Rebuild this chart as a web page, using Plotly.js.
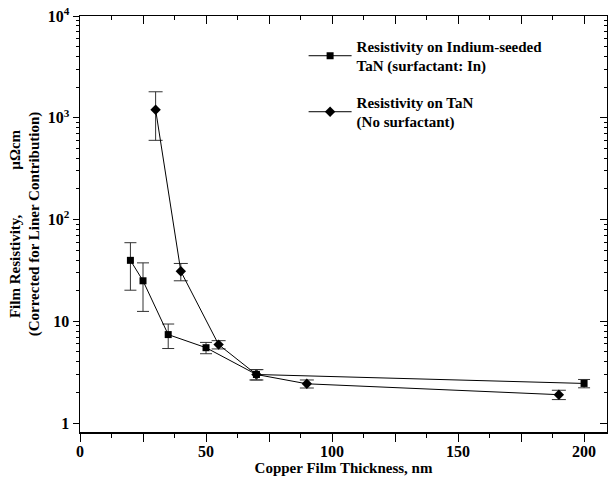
<!DOCTYPE html>
<html>
<head>
<meta charset="utf-8">
<script src="https://cdn.plot.ly/plotly-3.0.1.min.js"></script>
<style>
  html, body { margin: 0; padding: 0; background: #fff; }
  #chart { width: 608px; height: 480px; }
</style>
</head>
<body>
<div id="chart"></div>
<script>
// Copper film thickness (nm) and resistivity (µΩ·cm) with error bars
const thicknessIndium = [20, 25, 35, 50, 70, 200];
const resistivityIndium = [39.7, 25, 7.4, 5.5, 3.0, 2.45];
const errorIndium = [19.5, 12.5, 2.0, 0.7, 0.35, 0.23];

const thicknessTaN = [30, 40, 55, 70, 90, 190];
const resistivityTaN = [1200, 31, 5.9, 3.0, 2.43, 1.9];
const errorTaN = [600, 6, 0.55, 0.35, 0.22, 0.2];

const xTickVals = [0, 25, 50, 75, 100, 125, 150, 175, 200];
const xTickText = ['0', '', '50', '', '100', '', '150', '', '200'];
const yTickVals = [1, 10, 100, 1000, 10000];
const yTickText = ['1', '10', '10<sup>2</sup>', '10<sup>3</sup>', '10<sup>4</sup>'];

const nameIndium = 'Resistivity on Indium-seeded<br>TaN (surfactant: In)';
const nameTaN = 'Resistivity on TaN<br>(No surfactant)';

// minor log ticks 2..9 inside each decade
const yMinorVals = [];
for (let d = 0; d < yTickVals.length - 1; d++) {
  for (let k = 2; k <= 9; k++) yMinorVals.push(yTickVals[d] * k);
}

const serif = '"Liberation Serif", "Times New Roman", serif';
const xRange = [0, 209.1];
const yRange = [-0.088, 4.0];
const nb = '\u00A0';

const traces = [
  {
    x: thicknessTaN, y: resistivityTaN, name: nameTaN,
    type: 'scatter', mode: 'lines+markers', legendrank: 2, legendgroup: 'tan',
    line: { color: '#000', width: 1 },
    marker: { symbol: 'diamond', size: 8, color: '#000' },
    error_y: { type: 'data', array: errorTaN, visible: true, color: '#333', thickness: 1, width: 7 }
  },
  {
    x: thicknessIndium, y: resistivityIndium, name: nameIndium,
    type: 'scatter', mode: 'lines+markers', legendrank: 1, legendgroup: 'indium',
    line: { color: '#000', width: 1 },
    marker: { symbol: 'square', size: 7, color: '#000' },
    error_y: { type: 'data', array: errorIndium, visible: true, color: '#333', thickness: 1, width: 6 }
  },
  {
    // carrier for the mirrored top/right axes
    x: [], y: [], xaxis: 'x2', yaxis: 'y2', showlegend: false, hoverinfo: 'skip'
  }
];

const layout = {
  width: 608, height: 480,
  margin: { l: 80, r: 1, t: 16, b: 48, pad: 0 },
  paper_bgcolor: '#fff', plot_bgcolor: '#fff',
  font: { family: serif, color: '#000', size: 15, weight: 'bold' },
  showlegend: true,
  legend: {
    x: 0.4243, y: 0.967, xanchor: 'left', yanchor: 'top',
    bgcolor: 'rgba(0,0,0,0)', borderwidth: 0, itemwidth: 43,
    font: { family: serif, size: 15, color: '#000', weight: 'bold' },
    tracegroupgap: 14
  },
  xaxis: {
    range: xRange, showgrid: false, zeroline: false,
    showline: true, linecolor: '#000', linewidth: 1.5,
    tickmode: 'array', tickvals: xTickVals, ticktext: xTickText,
    ticks: 'outside', ticklen: 8, tickwidth: 1, tickcolor: '#000', ticklabelstandoff: -4,
    minor: { tickmode: 'linear', tick0: 0, dtick: 12.5, ticks: 'outside', ticklen: 4, tickcolor: '#000', tickwidth: 1 },
    tickfont: { family: serif, size: 16, color: '#000', weight: 'bold' },
    title: { text: 'Copper Film Thickness, nm', font: { family: serif, size: 15, color: '#000', weight: 'bold' }, standoff: 0 }
  },
  yaxis: {
    type: 'log', range: yRange, showgrid: false, zeroline: false,
    showline: true, linecolor: '#000', linewidth: 1.5,
    tickmode: 'array', tickvals: yTickVals, ticktext: yTickText,
    ticks: 'outside', ticklen: 6, tickwidth: 1, tickcolor: '#000',
    minor: { tickmode: 'array', tickvals: yMinorVals, ticks: 'outside', ticklen: 3, tickcolor: '#000', tickwidth: 1 },
    tickfont: { family: serif, size: 16, color: '#000', weight: 'bold' },
    title: {
      text: 'Film Resistivity,' + nb.repeat(12) + 'µΩcm<br>(Corrected for Liner Contribution)',
      font: { family: serif, size: 15, color: '#000', weight: 'bold' }, standoff: 4
    }
  },
  xaxis2: {
    overlaying: 'x', side: 'top', anchor: 'y2', range: xRange,
    showgrid: false, zeroline: false, showline: true, linecolor: '#000', linewidth: 1,
    tickmode: 'array', tickvals: xTickVals, showticklabels: false,
    ticks: 'inside', ticklen: 8, tickwidth: 1, tickcolor: '#000',
    minor: { tickmode: 'linear', tick0: 0, dtick: 12.5, ticks: 'inside', ticklen: 4, tickcolor: '#000', tickwidth: 1 }
  },
  yaxis2: {
    overlaying: 'y', side: 'right', anchor: 'x2', type: 'log', range: yRange,
    showgrid: false, zeroline: false, showline: true, linecolor: '#000', linewidth: 1,
    tickmode: 'array', tickvals: yTickVals, showticklabels: false,
    ticks: 'inside', ticklen: 7, tickwidth: 1, tickcolor: '#000',
    minor: { tickmode: 'array', tickvals: yMinorVals, ticks: 'inside', ticklen: 3, tickcolor: '#000', tickwidth: 1 }
  }
};

Plotly.newPlot('chart', traces, layout, { staticPlot: true, displayModeBar: false });
</script>
</body>
</html>
